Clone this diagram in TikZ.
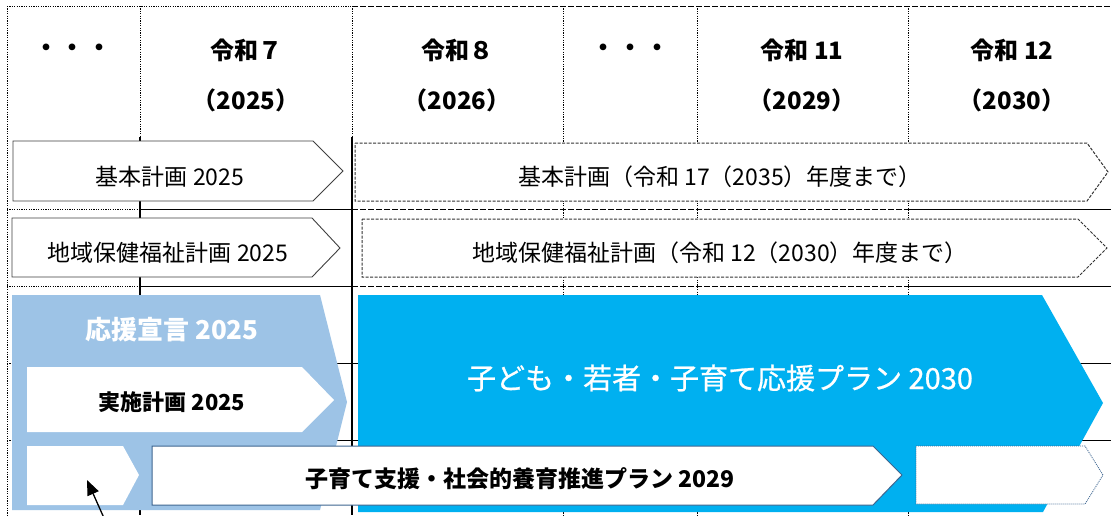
\documentclass[tikz,border=0pt]{standalone}
\usepackage{fontspec}
\setmainfont{Noto Sans CJK JP}
\newfontfamily\medfont{Noto Sans CJK JP}[FakeBold=0.8]
\usetikzlibrary{arrows.meta}
\definecolor{lightblue}{HTML}{9DC3E6}
\definecolor{planblue}{HTML}{00B0F0}
\definecolor{planstroke}{HTML}{3C6590}
\definecolor{boxgray}{HTML}{404040}
\tikzset{
  gsolid/.style={black, line width=0.9pt},
  gdash/.style={black, line width=0.9pt, dash pattern=on 6pt off 2pt},
  gdot/.style={black, line width=0.9pt, dash pattern=on 1.2pt off 1.2pt},
  solidbox/.style={draw=boxgray, fill=white, line width=0.9pt, line join=miter},
  dashbox/.style={draw=black!80, fill=white, line width=1pt, dash pattern=on 3pt off 1.5pt},
  headtxt/.style={inner sep=0pt, font=\fontsize{24}{24}\selectfont\bfseries},
  plantxt/.style={inner sep=0pt, font=\fontsize{23}{23}\selectfont},
  boldtxt/.style={inner sep=0pt, font=\fontsize{23}{23}\selectfont\bfseries},
}
\begin{document}
\begin{tikzpicture}[x=1pt,y=-1pt]
\useasboundingbox (0,0) rectangle (1111,515);
\clip (0,0) rectangle (1111,515);
\fill[white] (0,0) rectangle (1111,515);

% ---- grid ----
\draw[gdot] (7,6) -- (352,6);
\draw[gdash] (352,6) -- (1111,6);
\foreach \y in {209,286,363,440}{
  \draw[gdot] (7,\y) -- (140,\y);
  \draw[gsolid] (140,\y) -- (352,\y);
  \draw[gdash] (352,\y) -- (908,\y);
  \draw[gsolid] (908,\y) -- (1111,\y);
}
\draw[gdot] (7,6) -- (7,515);
\draw[gdot] (140,6) -- (140,137);
\draw[gsolid, line width=1.3pt] (140,137) -- (140,515);
\draw[gdot] (352,6) -- (352,137);
\draw[gsolid, line width=1.3pt] (352,137) -- (352,515);
\foreach \x in {563,697,908}{
  \draw[gdot] (\x,6) -- (\x,515);
}

% ---- header ----
\node[headtxt] (dots1) at (73,50) {・\kern3pt・\kern3pt・};
\node[headtxt] (r7) at (246,50) {令和７};
\node[headtxt] (y2025) at (246,100) {（2025）};
\node[headtxt] (r8) at (457,50) {令和８};
\node[headtxt] (y2026) at (457,100) {（2026）};
\node[headtxt] (dots2) at (630,50) {・\kern3pt・\kern3pt・};
\node[headtxt] (r11) at (802,50) {令和 11};
\node[headtxt] (y2029) at (802,100) {（2029）};
\node[headtxt] (r12) at (1012,50) {令和 12};
\node[headtxt] (y2030) at (1012,100) {（2030）};

% ---- row 1 ----
\path[solidbox] (13,141) -- (313,141) -- (343,171) -- (313,201) -- (13,201) -- cycle;
\node[plantxt] (kihon25) at (170,177) {基本計画 2025};
\path[dashbox] (355,143) -- (1087,143) -- (1108,172) -- (1087,201) -- (355,201) -- cycle;
\node[plantxt] (kihon35) at (720,177) {基本計画（令和 17（2035）年度まで）};

% ---- row 2 ----
\path[solidbox] (12,218) -- (312,218) -- (340,248) -- (312,277) -- (12,277) -- cycle;
\node[plantxt] (chiiki25) at (168,253) {地域保健福祉計画 2025};
\path[dashbox] (362,219) -- (1078,219) -- (1107,248) -- (1078,277) -- (362,277) -- cycle;
\node[plantxt] (chiiki30) at (720,253) {地域保健福祉計画（令和 12（2030）年度まで）};

% ---- light blue block ----
\fill[lightblue] (12,295) -- (320,295) -- (347,402) -- (320,510) -- (12,510) -- cycle;
\node[inner sep=0pt, text=white, font=\fontsize{26}{26}\selectfont\bfseries] (ouen) at (172,330) {応援宣言 2025};
\fill[white] (27,367) -- (302,367) -- (334,400) -- (302,432) -- (27,432) -- cycle;
\node[boldtxt, font=\fontsize{22}{22}\selectfont\bfseries] (jisshi) at (172,402) {実施計画 2025};
\fill[white] (27,446) -- (123,446) -- (139,475) -- (123,505) -- (27,505) -- cycle;

% ---- big blue block ----
\fill[planblue] (358,295) -- (1042,295) -- (1103,403) -- (1043,512) -- (358,512) -- cycle;
\node[inner sep=0pt, text=white, font=\fontsize{29}{29}\medfont] (kodomo) at (720,378) {子ども・若者・子育て応援プラン 2030};

% ---- row: kosodate shien ----
\path[draw=planstroke, fill=white, line width=1pt] (152,446) -- (873,446) -- (902,475) -- (873,505) -- (152,505) -- cycle;
\node[boldtxt] (shien) at (520,479) {子育て支援・社会的養育推進プラン 2029};
\path[draw=planstroke, fill=white, line width=0.8pt, dash pattern=on 1pt off 1pt] (916,446) -- (1085,446) -- (1103,475) -- (1085,504) -- (916,504) -- cycle;

% ---- pointer arrow ----
\coordinate (ptail) at (104,518);
\coordinate (ptip) at (87,480);
\draw[black, line width=1.3pt, -{Triangle[length=15pt,width=12pt]}] (ptail) -- (ptip);
\end{tikzpicture}
\end{document}
